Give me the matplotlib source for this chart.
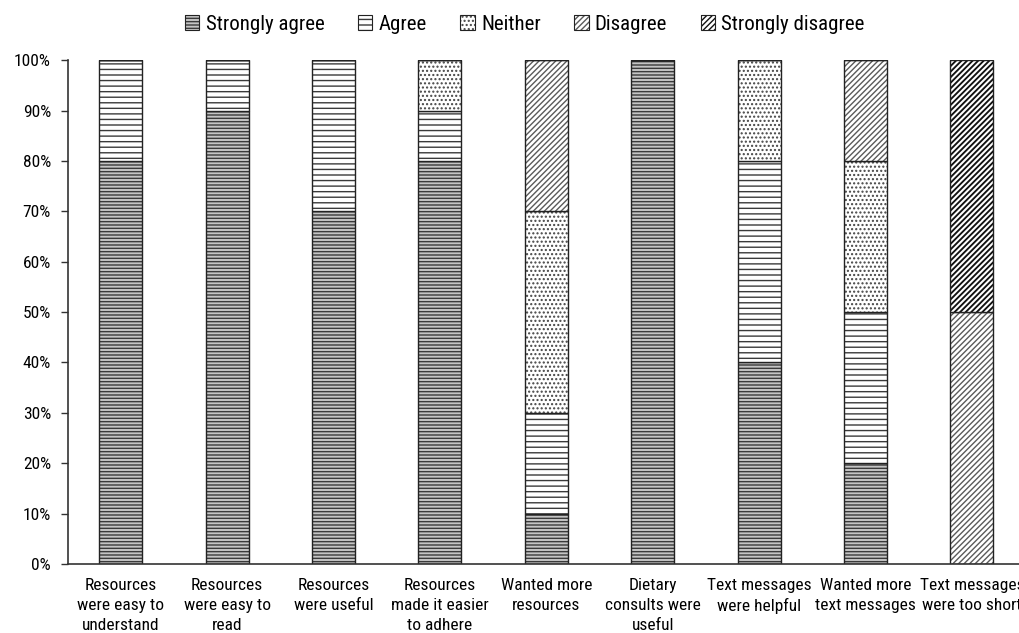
import matplotlib
matplotlib.use("AGG")
import matplotlib.pyplot as plt
from matplotlib import font_manager
from matplotlib.patches import Patch
from matplotlib.legend_handler import HandlerTuple
import numpy as np

# survey items and response shares (%)
categories = [
    "Resources\nwere easy to\nunderstand",
    "Resources\nwere easy to\nread",
    "Resources\nwere useful",
    "Resources\nmade it easier\nto adhere",
    "Wanted more\nresources",
    "Dietary\nconsults were\nuseful",
    "Text messages\nwere helpful",
    "Wanted more\ntext messages",
    "Text messages\nwere too short",
]
strongly_agree = [80, 90, 70, 80, 10, 100, 40, 20, 0]
agree = [20, 10, 30, 10, 20, 0, 40, 30, 0]
neither = [0, 0, 0, 10, 40, 0, 20, 30, 0]
disagree = [0, 0, 0, 0, 30, 0, 0, 20, 50]
strongly_disagree = [0, 0, 0, 0, 0, 0, 0, 0, 50]
labels = ["Strongly agree", "Agree", "Neither", "Disagree", "Strongly disagree"]

# narrow font if we have one
names = {f.name for f in font_manager.fontManager.ttflist}
family = "DejaVu Sans"
for cand in ["Liberation Sans Narrow", "Roboto Condensed", "DejaVu Sans Condensed", "Liberation Sans"]:
    if cand in names:
        family = cand
        break
plt.rcParams["font.family"] = [family, "DejaVu Sans"]

# (face, hatch colour, hatch, hatch width) per response
styles = [
    ("#c4c4c4", "#3a3a3a", "-----", 1.0),
    ("white", "#3a3a3a", "---", 1.0),
    ("white", "#444444", "....", 1.0),
    ("white", "#5a5a5a", "//////", 1.0),
    ("white", "#111111", "//////", 1.35),
]

fig = plt.figure(figsize=(10.19, 6.33), dpi=100)
ax = fig.add_axes([0.0663, 0.109, 0.9397, 0.796])

x = np.arange(len(categories))
bottom = np.zeros(len(categories))
handles = []
for vals, (face, hcol, hatch, hlw) in zip([strongly_agree, agree, neither, disagree, strongly_disagree], styles):
    vals = np.array(vals, dtype=float)
    with plt.rc_context({"hatch.linewidth": hlw}):
        ax.bar(x, vals, 0.405, bottom=bottom, color=face, edgecolor=hcol, hatch=hatch, linewidth=0)
        fill = Patch(facecolor=face, edgecolor=hcol, hatch=hatch, linewidth=0)
    ax.bar(x, vals, 0.405, bottom=bottom, fill=False, edgecolor="#222222", linewidth=1.0)
    bottom += vals
    handles.append((fill, Patch(fill=False, edgecolor="#222222", linewidth=0.8)))

ax.set_xlim(-0.5, len(categories) - 0.5)
ax.set_ylim(0, 100)
ax.set_yticks(np.arange(0, 101, 10))
ax.set_yticklabels([f"{v}%" for v in range(0, 101, 10)], fontsize=12.5)
ax.set_xticks(x)
ax.set_xticklabels(categories, fontsize=12.5, linespacing=1.42)
ax.tick_params(axis="x", length=0, pad=10)
ax.tick_params(axis="y", length=5, width=1, color="#333333", pad=7)
for s in ["top", "right"]:
    ax.spines[s].set_visible(False)
for s in ["left", "bottom"]:
    ax.spines[s].set_color("#333333")
    ax.spines[s].set_linewidth(1.2)

fig.legend(handles, labels, loc="upper center", bbox_to_anchor=(0.515, 1.006), ncol=5,
           frameon=False, fontsize=15, handler_map={tuple: HandlerTuple(ndivide=1)},
           handlelength=0.7, handleheight=0.7, handletextpad=0.3, columnspacing=1.6)

fig.savefig("out.png", dpi=100)
